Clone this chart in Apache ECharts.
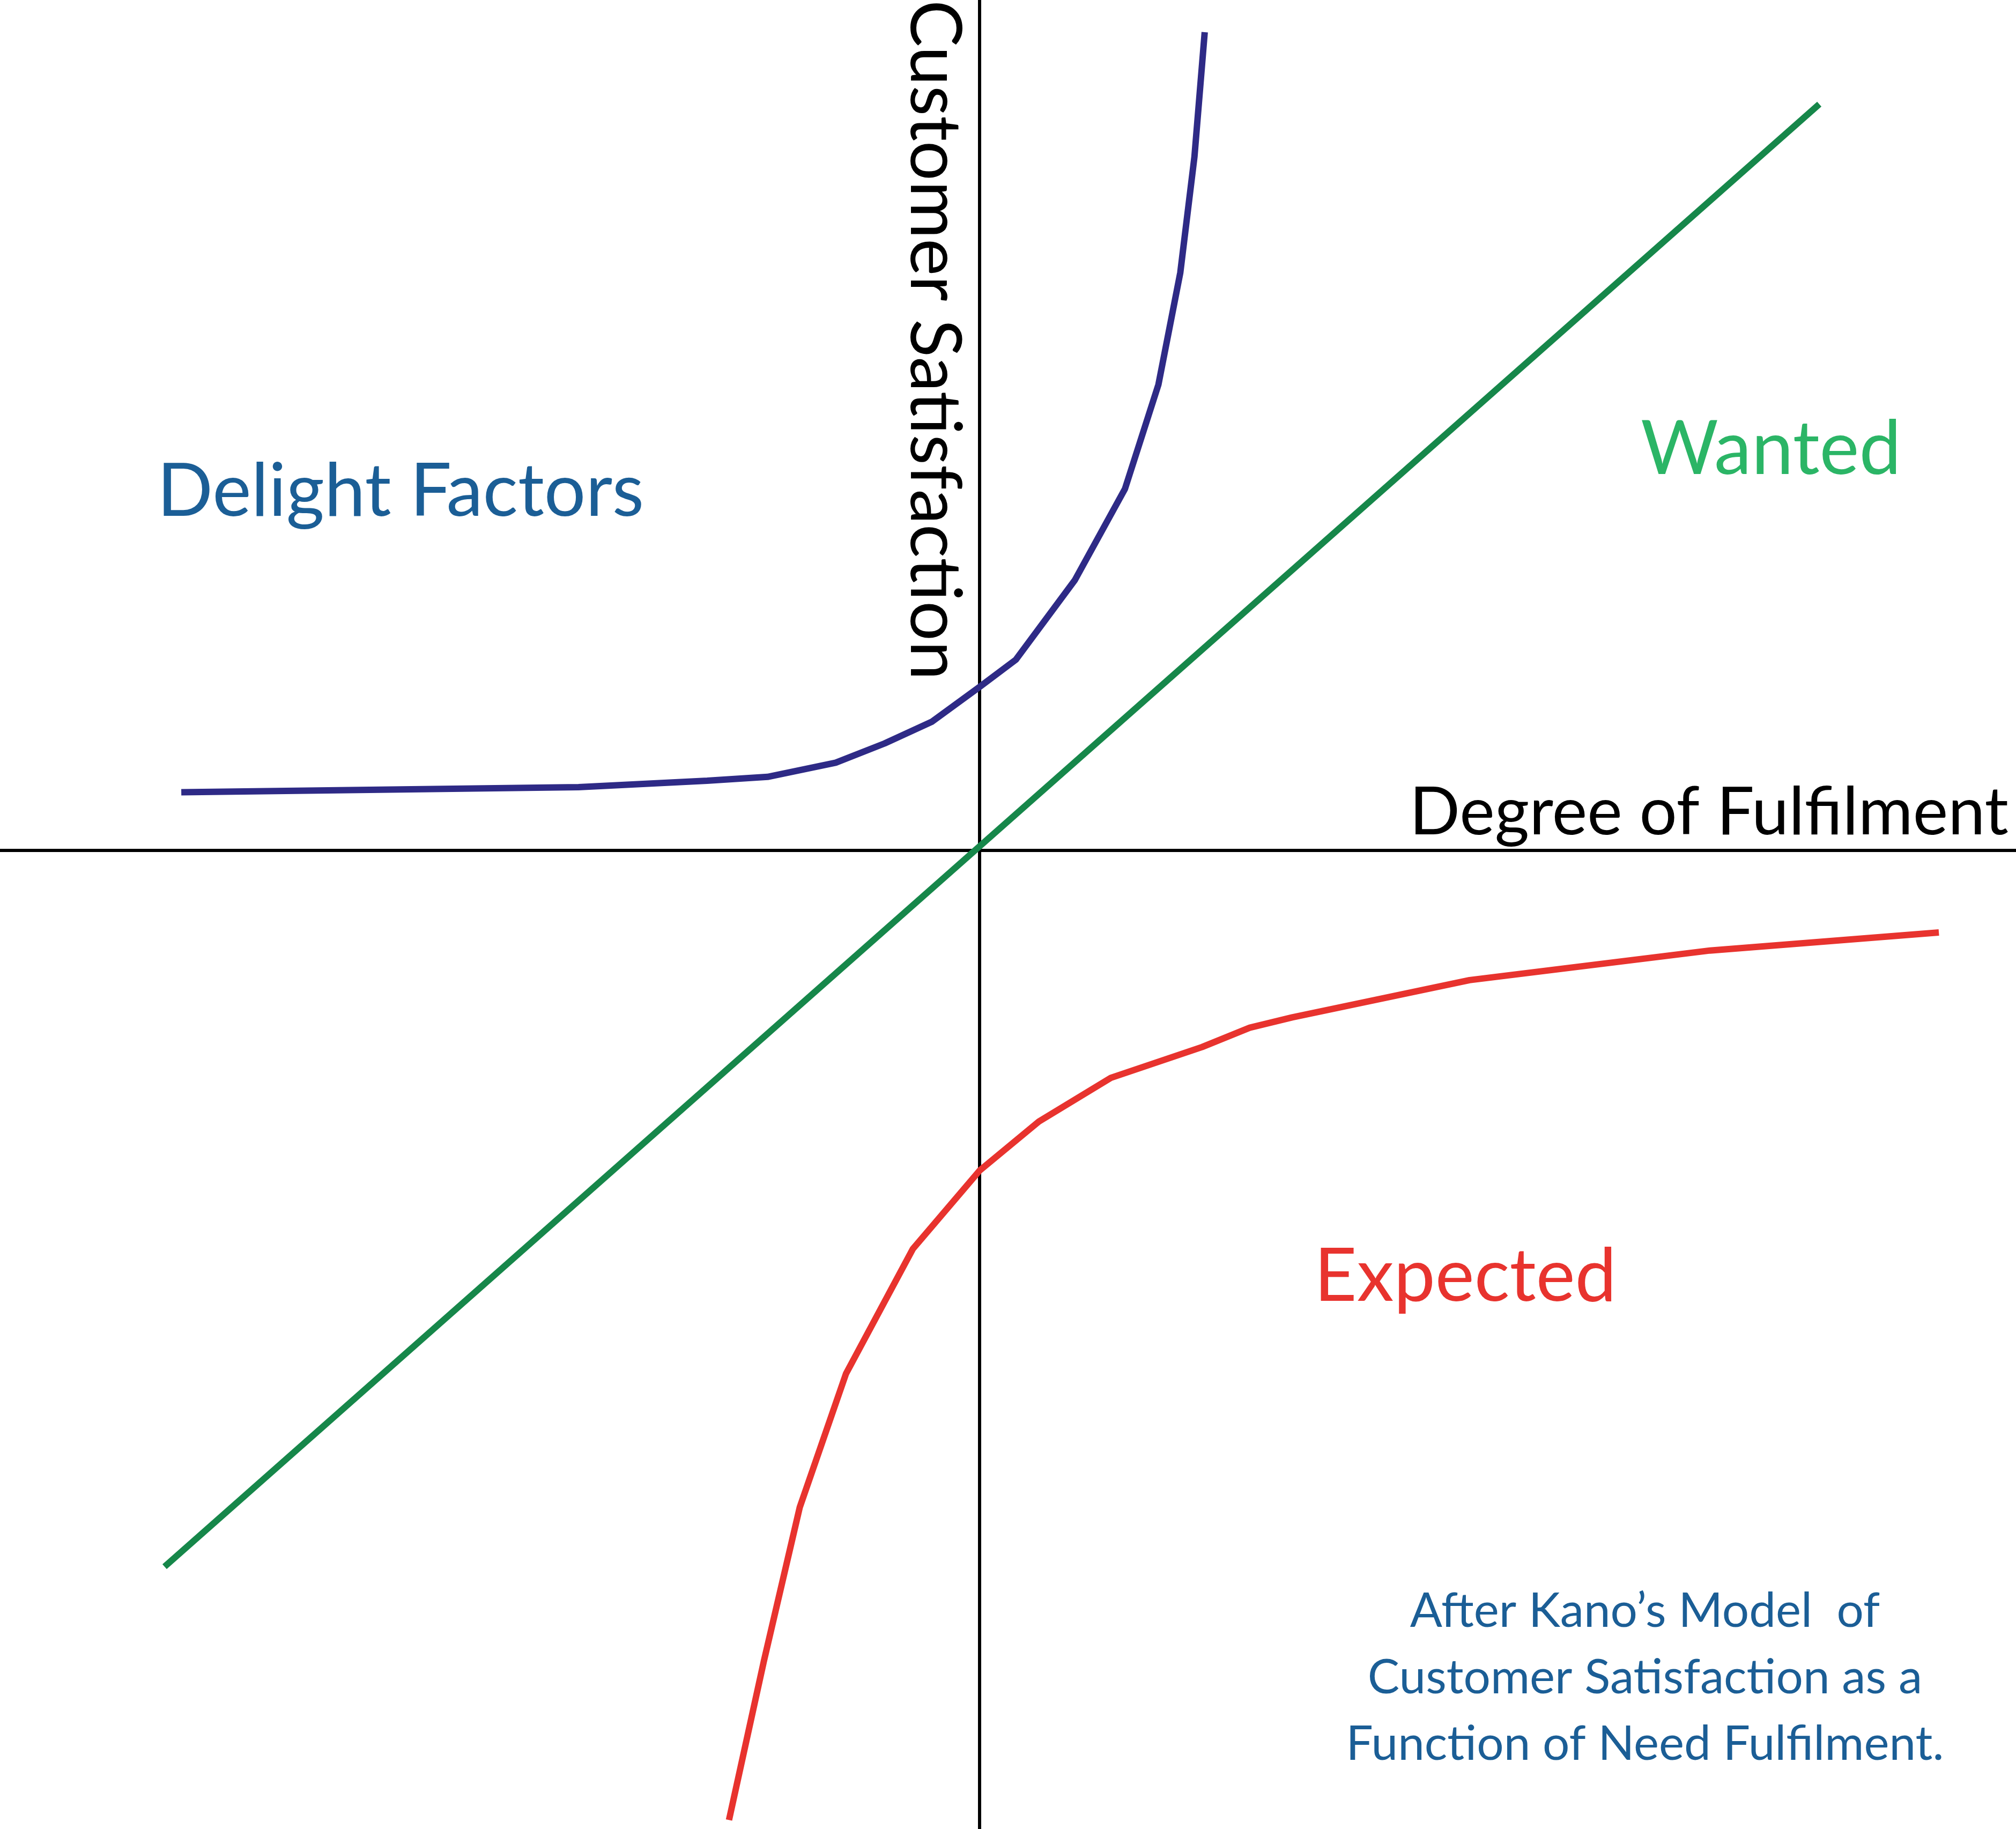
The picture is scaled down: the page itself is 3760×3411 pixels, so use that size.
<!DOCTYPE html>
<html>
<head>
<meta charset="utf-8">
<script src="https://cdn.jsdelivr.net/npm/echarts@6/dist/echarts.min.js"></script>
<style>html,body{margin:0;padding:0;background:#fff}#chart{width:3760px;height:3411px}</style>
</head>
<body>
<div id="chart"></div>
<script>
// data, origin at axes crossing
const delight = [[-621,45],[-312,49],[-212,54],[-165,57],[-112,68],[-74,83],[-37,100],[0,127],[28,148],[74,210],[113,281],[139,362],[156,449],[167,539],[175,636]]
const wanted = [[-634,-557],[653,580]]
const expected = [[-195,-754],[-168,-631],[-140,-511],[-104,-407],[-52,-310],[0,-249],[46,-211],[102,-177],[173,-153],[210,-138],[243,-130],[381,-101],[568,-78],[746,-64]]
const captionLines = ['After Kano\u2019s Model  of', 'Customer Satisfaction as a', 'Function of Need Fulfilment.']

const font = 'Lato, "Open Sans", sans-serif'
const chart = echarts.init(document.getElementById('chart'))

const line = (data, color) => ({
  type: 'line', data, symbol: 'none', silent: true,
  lineStyle: { color, width: 12 },
})

const hiddenAxis = (min, max) => ({
  type: 'value', min, max,
  axisLine: { onZero: true, lineStyle: { color: '#000', width: 6 } },
  axisTick: { show: false }, axisLabel: { show: false }, splitLine: { show: false },
})

const txt = (text, x, y, size, color, extra = {}) => ({
  type: 'text', x, y,
  style: Object.assign({ text, fill: color, font: `${size}px ${font}`, textVerticalAlign: 'middle' }, extra),
})

chart.setOption({
  animation: false,
  grid: { left: 0, right: 0, top: 0, bottom: 0 },
  xAxis: hiddenAxis(-762, 806),
  yAxis: hiddenAxis(-761, 661),
  series: [
    line(wanted, '#16874a'),
    line(delight, '#2e2a86'),
    line(expected, '#e8332e'),
  ],
  graphic: [
    txt('Delight Factors', 293, 918, 137, '#1b5e96'),
    txt('Wanted', 3060, 839, 140, '#2bb566'),
    txt('Expected', 2451, 2381, 138, '#e8332e'),
    txt('Degree of Fulfilment', 3746, 1516, 124, '#000', { textAlign: 'right' }),
    { type: 'text', x: 1741, y: 0, rotation: -Math.PI / 2,
      style: { text: 'Customer Satisfaction', fill: '#000', font: `131px ${font}`, textAlign: 'left', textVerticalAlign: 'middle' } },
    ...captionLines.map((t, i) => txt(t, 3068, 3005 + i * 124, 89, '#1b5e96', { textAlign: 'center' })),
  ],
})
</script>
</body>
</html>
